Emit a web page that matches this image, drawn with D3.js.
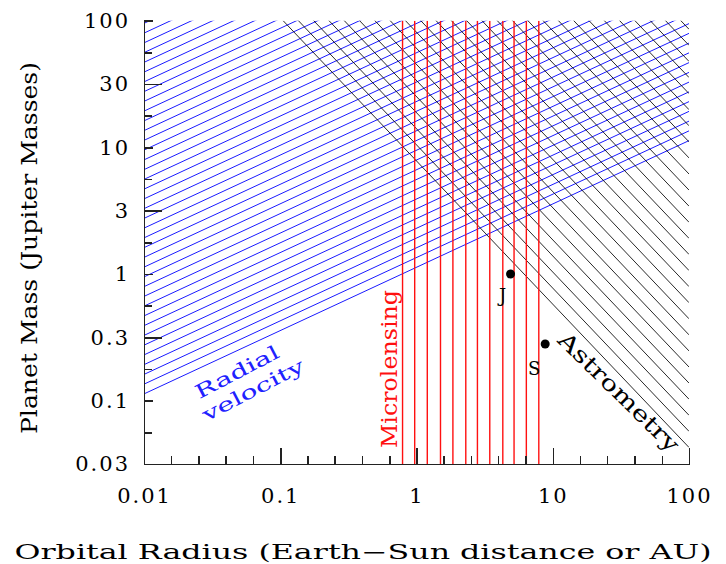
<!DOCTYPE html>
<html>
<head>
<meta charset="utf-8">
<script src="https://cdn.jsdelivr.net/npm/d3@7"></script>
<style>
  body { margin: 0; background: #fff; }
  svg { display: block; }
  text { font-family: "DejaVu Serif", serif; }
  .axis path, .axis line { stroke: #222; stroke-width: 1.5; shape-rendering: crispEdges; }
  .axis text { font-size: 21px; fill: #000; font-family: "DejaVu Serif", serif; }
</style>
</head>
<body>
<svg id="chart" width="726" height="564"></svg>
<script>
// x axis (orbital radius, AU)
const xMajorTicks = [0.01, 0.1, 1, 10, 100]
const xMajorLabels = ['0.01', '0.1', '1', '10', '100']
const xMinorTicks = [0.0158, 0.0251, 0.0398, 0.0631, 0.158, 0.251, 0.398, 0.631,
  1.58, 2.51, 3.98, 6.31, 15.8, 25.1, 39.8, 63.1]

// y axis (planet mass, Jupiter masses)
const yMajorTicks = [100, 31.6, 10, 3.16, 1, 0.316, 0.1, 0.0316]
const yMajorLabels = ['100', '30', '10', '3', '1', '0.3', '0.1', '0.03']
const yLongTicks = [31.6, 3.16, 0.316]
const yMinorTicks = [56.2, 17.8, 5.62, 1.78, 0.562, 0.178, 0.0562]

// detection limits
const rvEdgeRadius = [0.01, 100]
const rvEdgeMass = [0.113, 11.3]
const astroEdgeRadius = [0.105, 100]
const astroEdgeMass = [100, 0.0427]
const lensRadii = [0.79, 0.97, 1.2, 1.5, 1.85, 2.3, 2.8, 3.45, 4.3, 5.2, 6.4, 7.9]

// solar system planets
const planetNames = ['J', 'S']
const planetRadius = [4.9, 8.8]
const planetMass = [1.0, 0.28]

const margin = { top: 20.7, right: 37, bottom: 100, left: 144 }
const width = 726 - margin.left - margin.right
const height = 564 - margin.top - margin.bottom

const svg = d3.select('#chart')
const g = svg.append('g').attr('transform', `translate(${margin.left},${margin.top})`)

const x = d3.scaleLog().domain([0.01, 100]).range([0, width])
const y = d3.scaleLog().domain([0.0316, 100]).range([height, 0])

g.append('clipPath').attr('id', 'plot-clip')
  .append('rect').attr('width', width).attr('height', height)

const hatch = g.append('g').attr('clip-path', 'url(#plot-clip)')

// draws lines parallel to an edge, stepped upwards in log mass
function hatchLines (edgeA, edgeM, step, count, color, widthPx) {
  const lines = d3.range(count).map(k => {
    const f = Math.pow(10, k * step)
    return [[edgeA[0], edgeM[0] * f], [edgeA[1], edgeM[1] * f]]
  })
  hatch.append('g')
    .selectAll('path')
    .data(lines)
    .enter().append('path')
    .attr('d', d => d3.line().x(p => x(p[0])).y(p => y(p[1]))(d))
    .attr('fill', 'none')
    .attr('stroke', color)
    .attr('stroke-width', widthPx)
}

hatchLines(rvEdgeRadius, rvEdgeMass, 0.077, 40, '#1a1aff', 1)
hatchLines(astroEdgeRadius, astroEdgeMass, 0.127, 28, '#111', 0.9)

hatch.append('g')
  .selectAll('line')
  .data(lensRadii)
  .enter().append('line')
  .attr('x1', d => x(d))
  .attr('x2', d => x(d))
  .attr('y1', 0)
  .attr('y2', height)
  .attr('stroke', '#ff1010')
  .attr('stroke-width', 1.4)

// axes
const xAxis = g.append('g').attr('class', 'axis').attr('transform', `translate(0,${height})`)
xAxis.call(d3.axisBottom(x).tickValues(xMajorTicks).tickSize(-16).tickSizeOuter(0)
  .tickPadding(24).tickFormat((d, i) => xMajorLabels[i]))
xAxis.append('g').call(d3.axisBottom(x).tickValues(xMinorTicks).tickSize(-8).tickFormat(''))
  .select('.domain').remove()

const yAxis = g.append('g').attr('class', 'axis')
yAxis.call(d3.axisLeft(y).tickValues(yMajorTicks).tickSize(-9).tickSizeOuter(0)
  .tickPadding(14).tickFormat((d, i) => yMajorLabels[i]))
yAxis.append('g').call(d3.axisLeft(y).tickValues(yLongTicks).tickSize(-18).tickFormat(''))
  .select('.domain').remove()
yAxis.append('g').call(d3.axisLeft(y).tickValues(yMinorTicks).tickSize(-8).tickFormat(''))
  .select('.domain').remove()
g.selectAll('.axis .tick text').attr('letter-spacing', 2)

// planets
g.selectAll('.planet')
  .data(planetNames)
  .enter().append('circle')
  .attr('cx', (d, i) => x(planetRadius[i]))
  .attr('cy', (d, i) => y(planetMass[i]))
  .attr('r', 4.5)
  .attr('fill', '#000')

g.append('text').text(planetNames[0])
  .attr('x', x(planetRadius[0]) - 8).attr('y', y(planetMass[0]) + 28)
  .attr('text-anchor', 'middle').attr('font-size', 18)
g.append('text').text(planetNames[1])
  .attr('x', x(planetRadius[1]) - 11).attr('y', y(planetMass[1]) + 31)
  .attr('text-anchor', 'middle').attr('font-size', 18)

// region labels
const label = (txt, cx, cy, angle, size, color, len) => {
  svg.append('text')
    .attr('transform', `translate(${cx},${cy}) rotate(${angle})`)
    .attr('text-anchor', 'middle')
    .attr('dy', '0.35em')
    .attr('font-size', size)
    .attr('fill', color)
    .attr('textLength', len)
    .attr('lengthAdjust', 'spacingAndGlyphs')
    .text(txt)
}
label('Radial', 237, 372, -27.5, 19, '#2020ff', 92)
label('velocity', 253, 390, -27.5, 19, '#2020ff', 112)
label('Microlensing', 389, 369, -90, 23, '#ff1010', 158)
label('Astrometry', 619, 392, 44.5, 22, '#000', 160)

// axis titles
svg.append('text')
  .attr('x', 363).attr('y', 559)
  .attr('text-anchor', 'middle')
  .attr('font-size', 20)
  .attr('textLength', 697)
  .attr('lengthAdjust', 'spacingAndGlyphs')
  .text('Orbital Radius (Earth\u2212Sun distance or AU)')

svg.append('text')
  .attr('transform', 'translate(37,248) rotate(-90)')
  .attr('text-anchor', 'middle')
  .attr('font-size', 22)
  .attr('textLength', 372)
  .attr('lengthAdjust', 'spacingAndGlyphs')
  .text('Planet Mass (Jupiter Masses)')
</script>
</body>
</html>
